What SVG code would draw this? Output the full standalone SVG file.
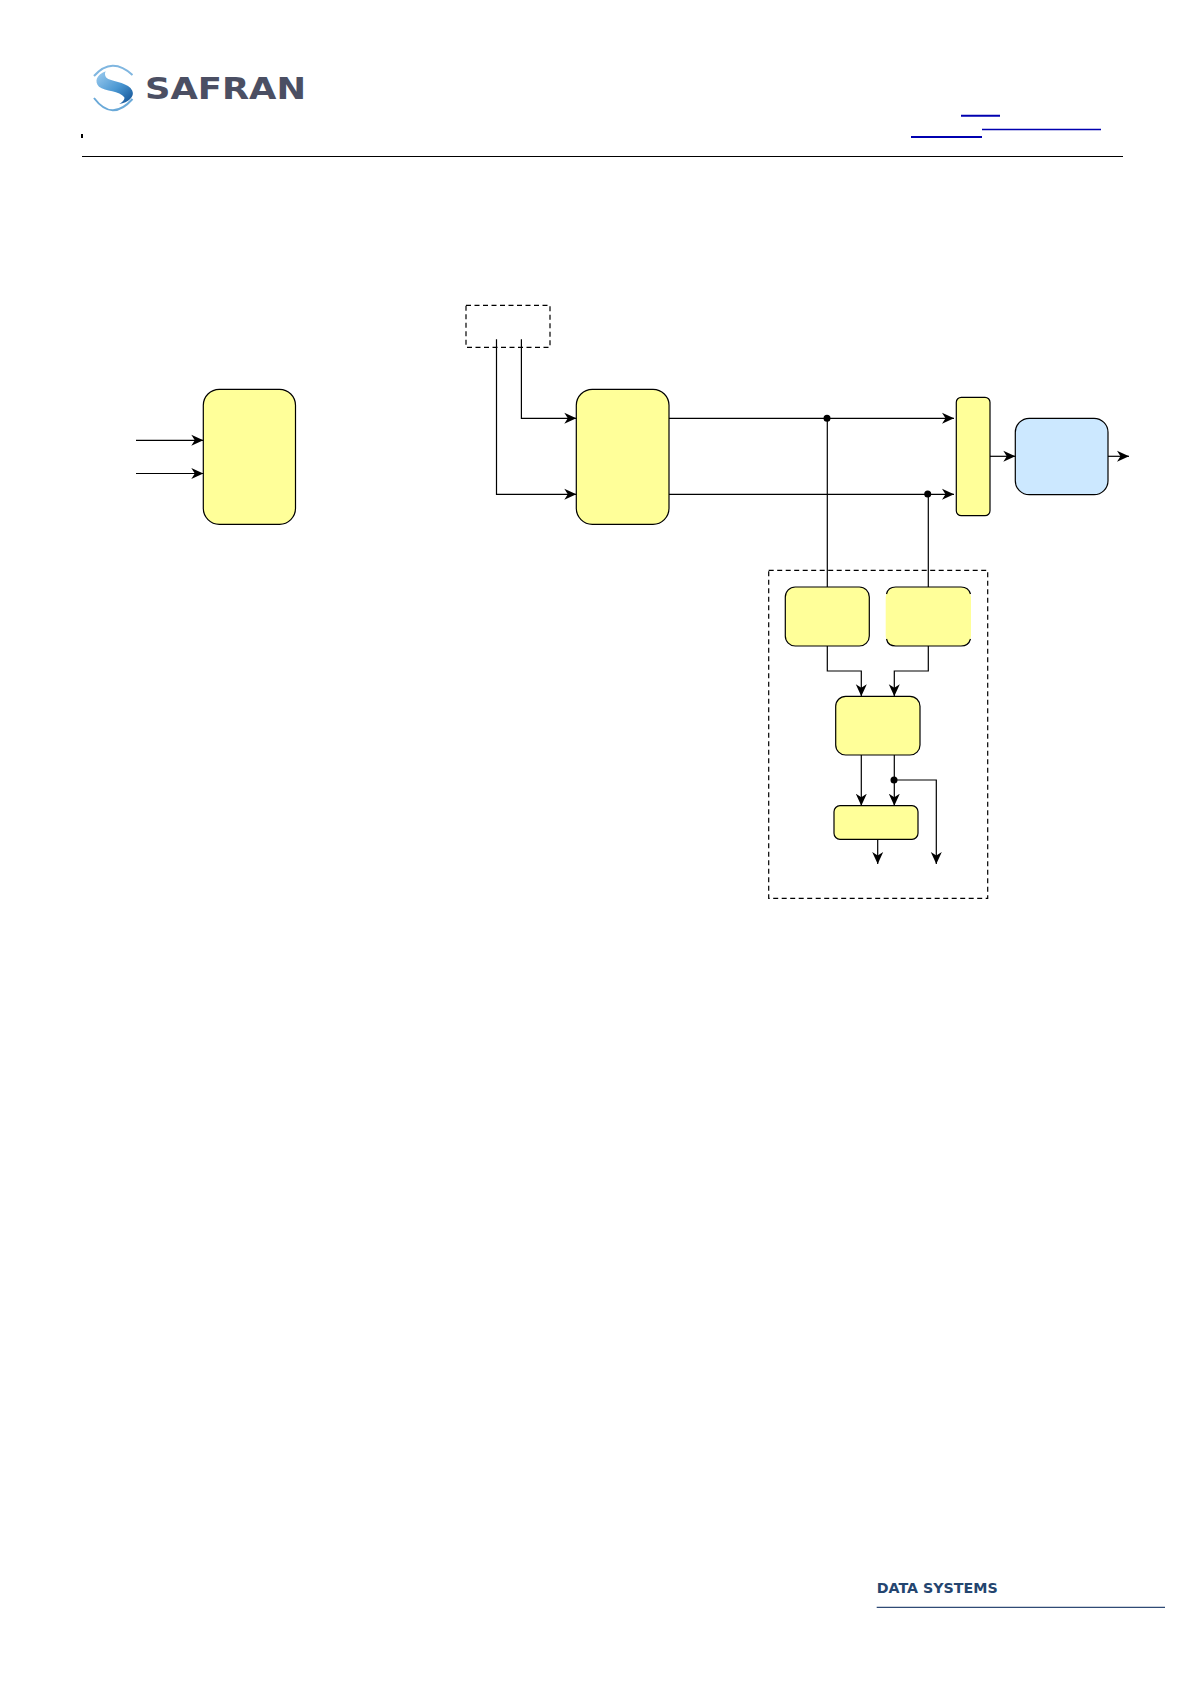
<svg xmlns="http://www.w3.org/2000/svg" width="1191" height="1684" viewBox="0 0 1191 1684">
<style>
.y{fill:#ffff99;stroke:#000;stroke-width:1.2}
.b{fill:#cce8ff;stroke:#000;stroke-width:1.2}
.d{fill:none;stroke:#000;stroke-width:1.2;stroke-dasharray:5 3.5}
.c{fill:none;stroke:#000;stroke-width:1.2}
.a{marker-end:url(#ar)}
.j{fill:#000}
.bl{stroke:#0000b0}
</style>
<defs>
<marker id="ar" markerUnits="userSpaceOnUse" markerWidth="14" markerHeight="13" refX="12" refY="6" orient="auto">
<path d="M0 0.5L12 6L0 11.5L3.5 6Z" fill="#000"/>
</marker>
<linearGradient id="lg" x1="0.1" y1="0.1" x2="0.9" y2="0.9">
<stop offset="0" stop-color="#8fc3ea"/>
<stop offset="0.55" stop-color="#4a97d2"/>
<stop offset="1" stop-color="#1b5c9e"/>
</linearGradient>
</defs>
<rect width="1191" height="1684" fill="#fff"/>
<g id="header">
<g id="logo">
<path d="M105.7 71.3C96 74.7 94.3 82 99 86.7C105 91.3 120 90.7 124.3 97.3C125 99.7 122.3 102.3 119.3 104C128.3 102.7 135 96.3 132.3 90.7C129 83 115 82 108.3 79C105 77.3 104.3 74 105.7 71.3Z" fill="url(#lg)"/>
<path d="M94 76Q112 56 132.5 75" fill="none" stroke="#7fb6e0" stroke-width="2"/>
<path d="M94 98Q112 122 132.5 99" fill="none" stroke="#6aa9d8" stroke-width="2"/>
<text x="145" y="99.3" font-family="'DejaVu Sans',sans-serif" font-weight="700" font-size="30" fill="#4b4f63" textLength="161" lengthAdjust="spacingAndGlyphs">SAFRAN</text>
</g>
<rect x="81" y="134" width="2" height="4" fill="#000"/>
<path d="M82 156.5H1123" class="c"/>
<path d="M961 115.7H1000" class="bl" stroke-width="2"/>
<path d="M982 129.5H1101" class="bl" stroke-width="1.3"/>
<path d="M911 137H982" class="bl" stroke-width="2"/>
</g>
<g id="footer">
<text x="876.7" y="1593.3" font-family="'DejaVu Sans',sans-serif" font-weight="700" font-size="13.7" fill="#24456f" textLength="121" lengthAdjust="spacingAndGlyphs">DATA SYSTEMS</text>
<path d="M876.7 1607.4H1165" stroke="#2f4a75" stroke-width="1.4"/>
</g>
<g id="n1"><rect class="y" x="203.3" y="389.3" width="92.2" height="135" rx="16"/></g>
<g id="n2"><rect class="d" x="466" y="305.3" width="84" height="42"/></g>
<g id="n3"><rect class="y" x="576.3" y="389.3" width="92.7" height="135" rx="16"/></g>
<g id="n4"><rect class="y" x="956.3" y="397.3" width="33.7" height="118.4" rx="5"/></g>
<g id="n5"><rect class="b" x="1015.3" y="418.3" width="92.7" height="76.4" rx="14"/></g>
<g id="n6"><rect class="d" x="768.7" y="570.3" width="219" height="328"/></g>
<g id="n7"><rect class="y" x="785.3" y="587" width="84" height="59" rx="10"/></g>
<g id="n8"><rect x="885.7" y="587" width="85.3" height="59" rx="10" fill="#ffff99"/><path class="c" d="M886.5 594Q888 587 895.7 587H961Q968.5 587 970.5 594M886.5 639Q888 646 895.7 646H961Q968.5 646 970.5 639"/></g>
<g id="n9"><rect class="y" x="835.7" y="696.3" width="84.3" height="58.7" rx="10"/></g>
<g id="n10"><rect class="y" x="834" y="805.7" width="84" height="33.6" rx="6"/></g>
<g id="connectors">
<path class="c a" d="M136 440.3H203.3"/>
<path class="c a" d="M136 473.5H203.3"/>
<path class="c a" d="M521.4 339.3V418.3H576.3"/>
<path class="c a" d="M496.5 339.3V494.3H576.3"/>
<path class="c a" d="M669 418.3H954"/>
<path class="c a" d="M669 494.3H954"/>
<path class="c" d="M827.3 418.3V587"/>
<path class="c" d="M928.3 494.3V587"/>
<path class="c a" d="M990 456.3H1015.3"/>
<path class="c a" d="M1108 456.3H1129"/>
<path class="c a" d="M827.3 646V671H861.3V696.3"/>
<path class="c a" d="M928.3 646V671H894.3V696.3"/>
<path class="c a" d="M861.3 755V805.7"/>
<path class="c a" d="M894.3 755V805.7"/>
<path class="c a" d="M894.3 780H936.3V864"/>
<path class="c a" d="M877.7 839.3V864"/>
<circle class="j" cx="827" cy="418.3" r="3.5"/>
<circle class="j" cx="927.7" cy="494" r="3.5"/>
<circle class="j" cx="894" cy="780" r="3.5"/>
</g>
</svg>
